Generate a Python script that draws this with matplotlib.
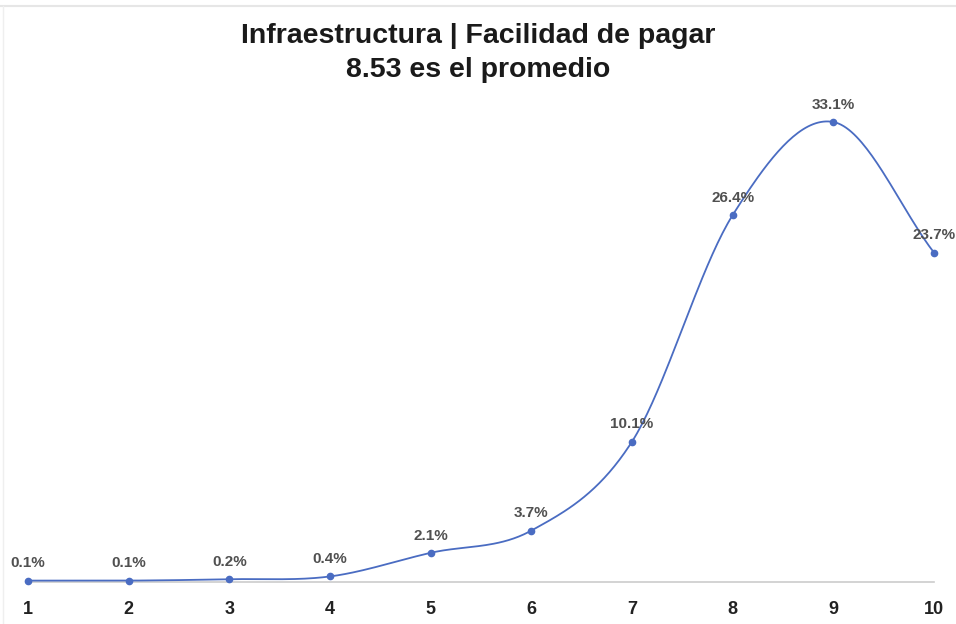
import numpy as np
import matplotlib
matplotlib.use("Agg")
import matplotlib.pyplot as plt
from matplotlib.lines import Line2D

plt.rcParams['font.family'] = ['Liberation Sans', 'DejaVu Sans']

scores = [1, 2, 3, 4, 5, 6, 7, 8, 9, 10]
shares = [0.1, 0.1, 0.2, 0.4, 2.1, 3.7, 10.1, 26.4, 33.1, 23.7]
tick_labels = [str(s) for s in scores]
title_lines = ["Infraestructura | Facilidad de pagar", "8.53 es el promedio"]

line_color = "#4a6cc2"


def smooth_curve(x, y, samples=40):
    """Cubic Hermite curve with Catmull-Rom tangents through every point."""
    x = np.asarray(x, float)
    y = np.asarray(y, float)
    n = len(x)
    m = np.zeros(n)
    m[1:-1] = (y[2:] - y[:-2]) / (x[2:] - x[:-2])
    m[0] = (y[1] - y[0]) / (x[1] - x[0])
    m[-1] = (y[-1] - y[-2]) / (x[-1] - x[-2])
    xs, ys = [], []
    for i in range(n - 1):
        h = x[i + 1] - x[i]
        t = np.linspace(0, 1, samples, endpoint=(i == n - 2))
        h00 = 2 * t**3 - 3 * t**2 + 1
        h10 = t**3 - 2 * t**2 + t
        h01 = -2 * t**3 + 3 * t**2
        h11 = t**3 - t**2
        xs.append(x[i] + t * h)
        ys.append(h00 * y[i] + h10 * h * m[i] + h01 * y[i + 1] + h11 * h * m[i + 1])
    return np.concatenate(xs), np.concatenate(ys)


fig = plt.figure(figsize=(9.56, 6.24), dpi=100)
W, H = 956, 624

# thin frame edges of the card
fig.add_artist(Line2D([0, 1], [1 - 6 / H, 1 - 6 / H], color="#e6e6e6", lw=1.5))
fig.add_artist(Line2D([3 / W, 3 / W], [0, 1 - 6 / H], color="#efefef", lw=1.0))

# plot area: x=1 at px 28, x=10 at px 934; y=0 at px 582
x0_px, x1_px = 28, 934
y0_px = 582
px_per_unit = (582 - 122) / 33.1
top_val = 36.0
top_px = y0_px - top_val * px_per_unit
ax = fig.add_axes([x0_px / W, 1 - y0_px / H, (x1_px - x0_px) / W, (y0_px - top_px) / H])
ax.set_xlim(1, 10)
ax.set_ylim(0, top_val)

sx, sy = smooth_curve(scores, shares)
ax.plot(sx, sy, color=line_color, lw=1.3, clip_on=False, zorder=3)
ax.plot(scores, shares, 'o', color=line_color, ms=4.5, clip_on=False, zorder=4)

for xv, yv in zip(scores, shares):
    ax.annotate(f"{yv:.1f}%", (xv, yv), xytext=(0, 9.5), textcoords="offset points",
                ha="center", va="baseline", fontsize=11, fontweight="bold",
                color="#505050")

for s in ["top", "right", "left"]:
    ax.spines[s].set_visible(False)
ax.spines["bottom"].set_color("#cccccc")
ax.spines["bottom"].set_linewidth(1.2)
ax.set_yticks([])
ax.set_xticks(scores)
ax.set_xticklabels(tick_labels, fontsize=13, fontweight="bold", color="#222222")
ax.tick_params(axis="x", length=0, pad=14)

fig.text(0.5, 1 - 43 / H, title_lines[0], ha="center", va="baseline", fontsize=20.5,
         fontweight="bold", color="#1a1a1a")
fig.text(0.5, 1 - 77 / H, title_lines[1], ha="center", va="baseline", fontsize=20.5,
         fontweight="bold", color="#1a1a1a")

fig.savefig("out.png", dpi=100, facecolor="white")
